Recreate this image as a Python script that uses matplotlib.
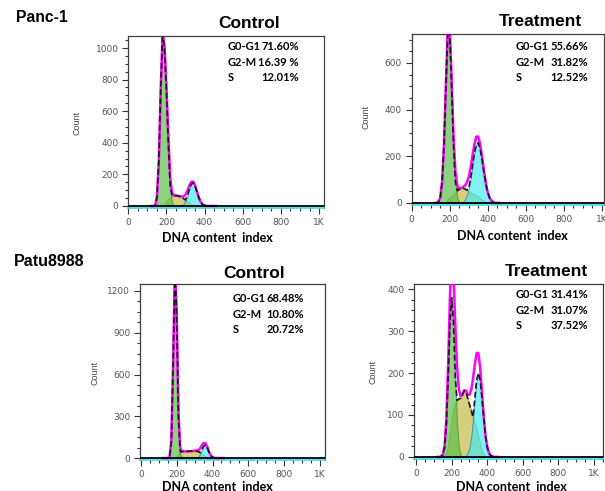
import numpy as np
import matplotlib
matplotlib.use("Agg")
import matplotlib.pyplot as plt
from matplotlib.ticker import MultipleLocator, FuncFormatter

# DNA content channels (bins of 10)
channels = np.arange(120, 470, 10)

# --- Panc-1 control
panc_ctrl_g1 = [0, 0, 0, 55, 286, 740, 1100, 1000, 726, 395, 116, 20, 0] + [0] * 22
panc_ctrl_s = [0, 0, 0, 0, 0, 0, 0, 10, 28, 45, 58, 64, 66, 66, 64, 60, 54, 46, 38, 30,
               22, 14, 7, 2, 0] + [0] * 10
panc_ctrl_g2 = [0] * 15 + [1, 4, 14, 33, 66, 106, 138, 147, 128, 90, 52, 24, 9, 3, 0] + [0] * 5

# --- Panc-1 treatment
panc_trt_g1 = [0, 0, 4, 22, 89, 251, 502, 740, 735, 502, 251, 89, 22, 4, 0] + [0] * 20
panc_trt_s = [0, 0, 0, 0, 0, 0, 8, 15, 22, 30, 38, 45, 52, 58, 62, 63, 60, 55, 50, 46,
              42, 37, 32, 26, 20, 14, 8, 3, 0] + [0] * 6
panc_trt_g2 = [0] * 14 + [2, 5, 14, 31, 60, 105, 160, 215, 252, 258, 232, 185, 132, 82, 45,
                          22, 9, 3, 0, 0, 0]

# --- Patu8988 control
patu_ctrl_g1 = [0, 0, 0, 0, 8, 125, 681, 1372, 1017, 277, 28, 1] + [0] * 23
patu_ctrl_s = [0, 0, 0, 0, 0, 0, 0, 0, 10, 35, 45, 47, 48, 48, 48, 49, 50, 51, 52, 50,
               46, 40, 32, 22, 13, 6, 0] + [0] * 8
patu_ctrl_g2 = [0] * 19 + [3, 10, 28, 58, 86, 94, 76, 45, 20, 6, 1, 0] + [0] * 4

# --- Patu8988 treatment
patu_trt_g1 = [0, 0, 1, 5, 24, 80, 190, 320, 380, 320, 190, 80, 24, 5, 1] + [0] * 20
patu_trt_s = [0, 0, 0, 0, 0, 10, 30, 60, 90, 115, 130, 135, 138, 140, 148, 158, 155, 140,
              125, 110, 95, 80, 65, 48, 30, 15, 5, 0] + [0] * 7
patu_trt_g2 = [0] * 15 + [1, 3, 9, 23, 50, 92, 141, 183, 200, 183, 141, 92, 50, 23, 9, 3, 1,
                          0, 0, 0]

stat_labels = ["G0-G1", "G2-M", "S"]
panc_ctrl_stats = ["71.60%", "16.39 %", "12.01%"]
panc_trt_stats = ["55.66%", "31.82%", "12.52%"]
patu_ctrl_stats = ["68.48%", "10.80%", "20.72%"]
patu_trt_stats = ["31.41%", "31.07%", "37.52%"]

W, H = 605, 491
fig = plt.figure(figsize=(W / 100, H / 100), dpi=100)


def fx(px):
    return px / W


def fy(py):
    return 1 - py / H


panels = [
    dict(rect=(128.3, 36, 324, 208), xlim=(0, 1026), ylim=(-13, 1076), ymaj=200, ymin=50,
         g1=panc_ctrl_g1, s=panc_ctrl_s, g2=panc_ctrl_g2, stats=panc_ctrl_stats,
         title="Control", tpos=(249, 24), spos=(228, 299, 47), xl=(217, 238), yl=(77, 123)),
    dict(rect=(411.7, 34, 604, 205), xlim=(0, 1012), ylim=(-9, 724), ymaj=200, ymin=50,
         g1=panc_trt_g1, s=panc_trt_s, g2=panc_trt_g2, stats=panc_trt_stats,
         title="Treatment", tpos=(540, 22), spos=(516, 588, 47), xl=(512, 236), yl=(366, 117)),
    dict(rect=(140, 284, 325, 460), xlim=(-5, 1028), ylim=(-14, 1250), ymaj=300, ymin=75,
         g1=patu_ctrl_g1, s=patu_ctrl_s, g2=patu_ctrl_g2, stats=patu_ctrl_stats,
         title="Control", tpos=(254, 273), spos=(233, 304, 299), xl=(217, 487), yl=(95, 373)),
    dict(rect=(414.3, 284, 603, 459), xlim=(-10, 1050), ylim=(-5, 412.6), ymaj=100, ymin=25,
         g1=patu_trt_g1, s=patu_trt_s, g2=patu_trt_g2, stats=patu_trt_stats,
         title="Treatment", tpos=(546, 271), spos=(516, 588, 295), xl=(511, 487), yl=(373, 372)),
]

for p in panels:
    l, t, r, b = p["rect"]
    ax = fig.add_axes([fx(l), fy(b), (r - l) / W, (b - t) / H])
    g1 = np.array(p["g1"], float)
    s = np.array(p["s"], float)
    g2 = np.array(p["g2"], float)
    total = g1 + s + g2
    envelope = np.maximum.reduce([g1, s, g2])

    ax.fill_between(channels, 0, s, color="#d6cf7e", edgecolor="#9a9430", lw=0.6, zorder=2)
    ax.fill_between(channels, 0, g1, color="#5cc04a", alpha=0.7, edgecolor="#2f8f2f",
                    lw=0.7, zorder=3)
    ax.fill_between(channels, 0, g2, color="#3cecf4", alpha=0.65, edgecolor="#2a5fb8",
                    lw=0.7, zorder=3)
    ax.plot(channels, total, color="#ff00ff", lw=1.8, zorder=4)
    ax.plot(channels, envelope, color="#1a1a1a", lw=1.2, dashes=(3.5, 1.8), zorder=5)
    ax.axhline(0, color="black", lw=1.3, zorder=5)

    ax.set_xlim(*p["xlim"])
    ax.set_ylim(*p["ylim"])
    ax.xaxis.set_major_locator(MultipleLocator(200))
    ax.xaxis.set_minor_locator(MultipleLocator(50))
    ax.yaxis.set_major_locator(MultipleLocator(p["ymaj"]))
    ax.yaxis.set_minor_locator(MultipleLocator(p["ymin"]))
    ax.xaxis.set_major_formatter(FuncFormatter(lambda v, pos: "1K" if v == 1000 else f"{v:.0f}"))
    ax.tick_params(which="both", direction="out", color="#333333", labelcolor="#555555",
                   labelsize=6.5, width=0.8)
    ax.tick_params(which="major", length=4, pad=3)
    ax.tick_params(which="minor", length=2)
    for side in ["left", "top", "right"]:
        ax.spines[side].set_color("#404040")
        ax.spines[side].set_linewidth(0.9)
    ax.spines["bottom"].set_color("#38d8e8")
    ax.spines["bottom"].set_linewidth(1.2)

    fig.text(fx(p["tpos"][0]), fy(p["tpos"][1]), p["title"], ha="center", va="center",
             fontsize=12.5, fontweight="bold", family="Liberation Sans")
    fig.text(fx(p["xl"][0]), fy(p["xl"][1]), "DNA content  index", ha="center", va="center",
             fontsize=9, fontweight="bold", family="Lato")
    fig.text(fx(p["yl"][0]), fy(p["yl"][1]), "Count", ha="center", va="center",
             rotation=90, fontsize=6.5, color="#444444", family="Liberation Sans")
    x0, x1, y0 = p["spos"]
    for i, (lab, val) in enumerate(zip(stat_labels, p["stats"])):
        yy = fy(y0 + i * 15.3)
        fig.text(fx(x0), yy, lab, ha="left", va="center", fontsize=8, fontweight="bold",
                 family="Lato")
        fig.text(fx(x1), yy, val, ha="right", va="center", fontsize=8, fontweight="bold",
                 family="Lato")

fig.text(fx(16), fy(18), "Panc-1", ha="left", va="center", fontsize=11.3, fontweight="bold",
         family="Liberation Sans")
fig.text(fx(14), fy(262), "Patu8988", ha="left", va="center", fontsize=11.5,
         fontweight="bold", family="Liberation Sans")

fig.savefig("out.png", dpi=100)
